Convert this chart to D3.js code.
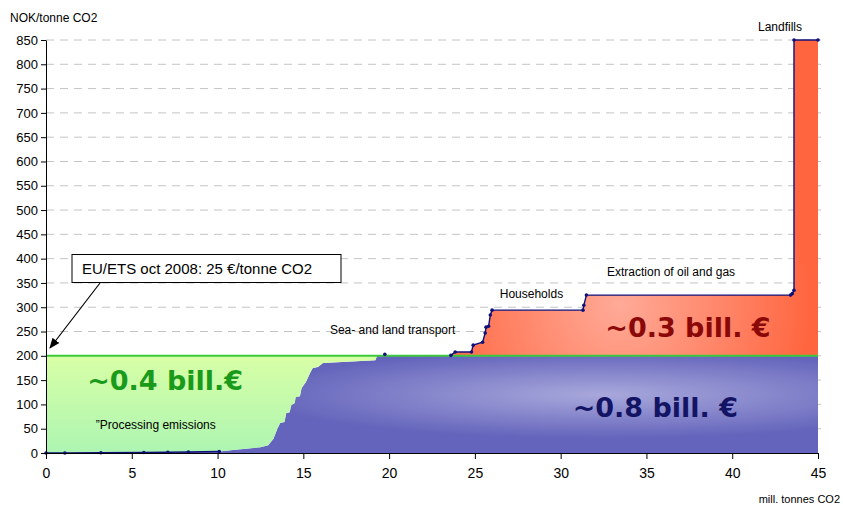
<!DOCTYPE html>
<html><head><meta charset="utf-8">
<script src="https://cdn.jsdelivr.net/npm/d3@7"></script>
<style>body{margin:0;background:#fff;} svg{display:block;font-family:"Liberation Sans",Arial,sans-serif;}</style>
</head><body>
<svg id="c" width="843" height="506"></svg>
<script>
// ---- data ----
const curveX = [0, 1.1, 3.2, 5.7, 7.1, 8.3, 10.1, 10.9, 12.5, 12.95, 13.25, 13.5, 13.65, 13.9, 14.0, 14.2, 14.3, 14.5, 14.55, 14.8, 14.9, 15.15, 15.4, 15.55, 15.85, 16.15, 19.2, 19.3, 19.75, 23.6, 23.85, 24.8, 24.9, 25.45, 25.6, 25.65, 25.8, 25.9, 26.0, 31.3, 31.35, 31.5, 43.4, 43.5, 43.6, 43.6, 45];
const curveY = [0, 0, 0.5, 1, 1.5, 2, 3, 6, 12, 16, 29, 51, 62, 64, 82, 84, 99, 103, 115, 117, 134, 146, 165, 175, 177, 185, 191, 201, 203, 201, 208, 208, 222, 228, 247, 259, 261, 284, 294, 294, 304, 325, 325, 328, 335, 850, 850];
const etsPrice = 200;
const yTicks = [0,50,100,150,200,250,300,350,400,450,500,550,600,650,700,750,800,850];
const xTicks = [0,5,10,15,20,25,30,35,40,45];
const sectorLabels = ["Landfills","Extraction of oil and gas","Households","Sea- and land transport","\u201DProcessing emissions"];
const sectorAt = [[41.5,868],[32.7,365],[26.45,320],[16.55,245],[2.9,50]];
const bigLabels = ["~0.4 bill.\u20AC","~0.3 bill. \u20AC","~0.8 bill. \u20AC"];
const bigAt = [[2.4,129],[32.6,238],[30.7,75]];
const bigColors = ["#1a9a1a","#8a0808","#141464"];
const noteText = "EU/ETS oct 2008: 25 \u20AC/tonne CO2";
const yTitle = "NOK/tonne CO2", xTitle = "mill. tonnes CO2";

const pts = curveX.map((x,i)=>({x, v: curveY[i]}));
const svg = d3.select("#c");
const x = d3.scaleLinear().domain([0,45]).range([46,818]);
const y = d3.scaleLinear().domain([0,850]).range([453,40]);

const defs = svg.append("defs");
const gB = defs.append("radialGradient").attr("id","gb").attr("cx",0.72).attr("cy",0.4).attr("r",0.45);
gB.append("stop").attr("offset",0).attr("stop-color","#a8a8dc");
gB.append("stop").attr("offset",1).attr("stop-color","#6464bc");
const gR = defs.append("radialGradient").attr("id","gr").attr("gradientUnits","userSpaceOnUse")
  .attr("cx",620).attr("cy",305).attr("r",190);
gR.append("stop").attr("offset",0).attr("stop-color","#ffaa98");
gR.append("stop").attr("offset",1).attr("stop-color","#ff6640");
const gG = defs.append("linearGradient").attr("id","gg").attr("x1",0).attr("y1",0).attr("x2",0).attr("y2",1);
gG.append("stop").attr("offset",0).attr("stop-color","#d8ffa6");
gG.append("stop").attr("offset",1).attr("stop-color","#adf5b2");
defs.append("marker").attr("id","ah").attr("viewBox","0 0 10 10").attr("refX",9).attr("refY",5)
  .attr("markerWidth",9).attr("markerHeight",9).attr("orient","auto-start-reverse")
  .append("path").attr("d","M0,1 L10,5 L0,9 z").attr("fill","#000");

// gridlines
svg.append("g").selectAll("line").data(yTicks.filter(t=>t>0)).join("line")
  .attr("x1",x(0)).attr("x2",x(45)+3).attr("y1",d=>y(d)).attr("y2",d=>y(d))
  .attr("stroke","#c4c4c4").attr("stroke-dasharray","8,6");

// fills
svg.append("path").datum(pts).attr("fill","url(#gb)")
  .attr("d", d3.area().x(d=>x(d.x)).y0(y(0)).y1(d=>y(Math.min(d.v,etsPrice))));
svg.append("path").datum(pts).attr("fill","url(#gg)")
  .attr("d", d3.area().x(d=>x(d.x)).y0(d=>y(Math.min(d.v,etsPrice))).y1(y(etsPrice)));
svg.append("path").datum(pts).attr("fill","url(#gr)")
  .attr("d", d3.area().defined(d=>d.x>=23.6).x(d=>x(d.x)).y0(y(etsPrice)).y1(d=>y(Math.max(d.v,etsPrice))));

// ETS line
svg.append("line").attr("x1",x(0)).attr("x2",x(45)).attr("y1",y(etsPrice)).attr("y2",y(etsPrice))
  .attr("stroke","#3cc83c").attr("stroke-width",2);

// curve line
const shown = d=> d.x<=10.1 || d.x>=23.6;
const dotted = d=> d.x<=10.1 || d.x>=19.7;
svg.append("path").datum(pts).attr("fill","none").attr("stroke","#10107a").attr("stroke-width",1.4)
  .attr("d", d3.line().defined(shown).x(d=>x(d.x)).y(d=>y(d.v)));
svg.append("g").selectAll("circle").data(pts.filter(dotted)).join("circle")
  .attr("cx",d=>x(d.x)).attr("cy",d=>y(d.v)).attr("r",1.8).attr("fill","#10107a");

// axes
const ya = svg.append("g").attr("transform",`translate(${x(0)},0)`)
  .call(d3.axisLeft(y).tickValues(yTicks).tickSize(5).tickPadding(3).tickSizeOuter(0));
ya.selectAll("text").attr("font-size",13).attr("fill","#000").attr("font-family","Liberation Sans, Arial");
ya.select(".domain").attr("stroke","#000");
const xa = svg.append("g").attr("transform",`translate(0,${y(0)})`)
  .call(d3.axisBottom(x).tickValues(xTicks).tickSize(6).tickPadding(9).tickSizeOuter(0));
xa.selectAll("text").attr("font-size",14).attr("fill","#000").attr("font-family","Liberation Sans, Arial");
xa.select(".domain").attr("stroke","#000");

svg.append("text").attr("x",10).attr("y",22).attr("font-size",12).text(yTitle);
svg.append("text").attr("x",840).attr("y",503).attr("font-size",11).attr("text-anchor","end").text(xTitle);

// sector labels
svg.append("g").selectAll("text").data(sectorLabels).join("text")
  .attr("x",(d,i)=>x(sectorAt[i][0])).attr("y",(d,i)=>y(sectorAt[i][1]))
  .attr("font-size",12).attr("fill","#000").text(d=>d);

// big labels
svg.append("g").selectAll("text").data(bigLabels).join("text")
  .attr("x",(d,i)=>x(bigAt[i][0])).attr("y",(d,i)=>y(bigAt[i][1]))
  .attr("font-size",27).attr("font-weight","bold").attr("font-family","DejaVu Sans, sans-serif")
  .attr("fill",(d,i)=>bigColors[i]).text(d=>d);

// annotation
svg.append("rect").attr("x",72).attr("y",254.5).attr("width",269).attr("height",28)
  .attr("fill","#fff").attr("stroke","#000").attr("stroke-width",1);
svg.append("text").attr("x",82).attr("y",274).attr("font-size",15).text(noteText);
svg.append("line").attr("x1",100).attr("y1",283).attr("x2",50).attr("y2",348)
  .attr("stroke","#000").attr("stroke-width",1.2).attr("marker-end","url(#ah)");
</script>
</body></html>
